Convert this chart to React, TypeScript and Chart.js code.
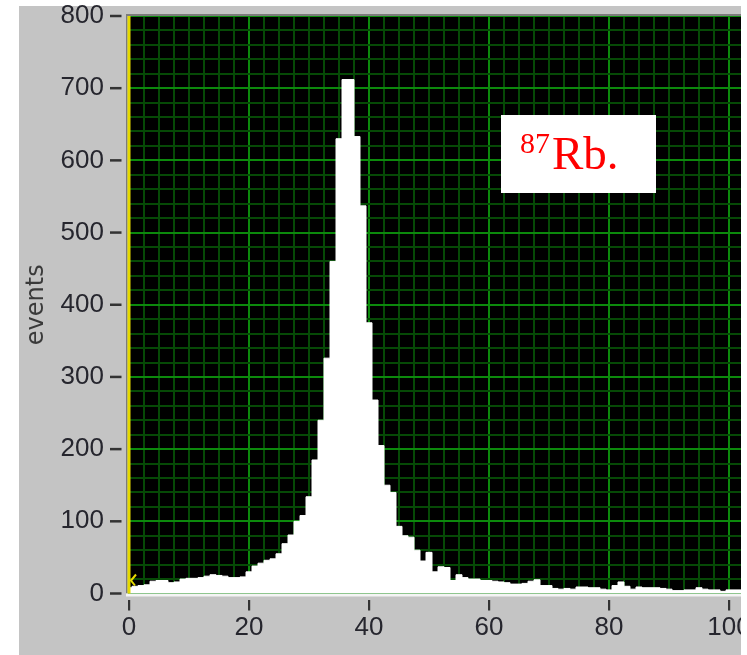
import React, { useEffect, useRef } from 'react';
import { Chart, registerables } from 'chart.js';

Chart.register(...registerables);

// Histogram bin centres (x) and event counts (y)
const binCenters = [
  0, 1, 2, 3, 4, 5, 6, 7, 8, 9, 10, 11, 12, 13, 14, 15, 16, 17, 18, 19,
  20, 21, 22, 23, 24, 25, 26, 27, 28, 29, 30, 31, 32, 33, 34, 35, 36, 37, 38, 39,
  40, 41, 42, 43, 44, 45, 46, 47, 48, 49, 50, 51, 52, 53, 54, 55, 56, 57, 58, 59,
  60, 61, 62, 63, 64, 65, 66, 67, 68, 69, 70, 71, 72, 73, 74, 75, 76, 77, 78, 79,
  80, 81, 82, 83, 84, 85, 86, 87, 88, 89, 90, 91, 92, 93, 94, 95, 96, 97, 98, 99,
  100, 101, 102,
];

const eventCounts = [
  8, 10, 11, 12, 17, 18, 18, 15, 16, 20, 21, 21, 22, 24, 26, 25, 24, 22, 22, 23,
  30, 38, 42, 46, 48, 55, 69, 81, 100, 108, 134, 185, 240, 326, 460, 630, 712, 712, 633, 537,
  375, 268, 205, 150, 140, 93, 80, 78, 60, 45, 57, 30, 37, 36, 18, 26, 22, 20, 20, 18,
  18, 17, 16, 15, 13, 13, 14, 17, 19, 11, 11, 7, 6, 7, 6, 9, 9, 8, 8, 6,
  5, 11, 16, 10, 6, 9, 8, 8, 8, 7, 6, 4, 4, 5, 5, 8, 6, 5, 5, 3,
  5, 5, 5,
];

const xTickLabels = [0, 20, 40, 60, 80, 100];
const yTickLabels = [0, 100, 200, 300, 400, 500, 600, 700, 800];

const PANEL_GRAY = '#c4c4c4';
const MAJOR_GREEN = 'rgb(12,138,12)';
const MINOR_GREEN = 'rgb(6,74,6)';
const TEXT_COLOR = '#26262e';

const isMajorX = (v: number) => xTickLabels.indexOf(Math.round(v * 1000) / 1000) >= 0;
const isMajorY = (v: number) => yTickLabels.indexOf(Math.round(v * 1000) / 1000) >= 0;

const decorPlugin = {
  id: 'decor',
  beforeDraw(chart: any) {
    const { ctx, chartArea: a } = chart;
    ctx.save();
    ctx.fillStyle = PANEL_GRAY;
    ctx.fillRect(19, 6, 741 - 19, 655 - 6);
    ctx.fillStyle = '#000000';
    ctx.fillRect(a.left, a.top, a.right - a.left, a.bottom - a.top);
    ctx.restore();
  },
  afterDatasetsDraw(chart: any) {
    const { ctx, chartArea: a, scales } = chart;
    ctx.save();
    // frame
    ctx.fillStyle = '#7c7c7c';
    ctx.fillRect(a.left - 3, a.top - 2, a.right - a.left + 3, 2);
    ctx.fillRect(a.left - 3, a.top - 2, 1.5, a.bottom - a.top + 2);
    ctx.fillStyle = '#f4f4f4';
    ctx.fillRect(a.left - 3, a.bottom, a.right - a.left + 3, 3);
    // yellow cursor line at x = 0
    const x0 = scales.x.getPixelForValue(0);
    ctx.fillStyle = '#e6da00';
    ctx.fillRect(x0 - 1.5, a.top, 3, a.bottom - a.top);
    // small cursor marker
    ctx.strokeStyle = '#e6da00';
    ctx.lineWidth = 2;
    ctx.beginPath();
    ctx.moveTo(x0 + 7, a.bottom - 19);
    ctx.lineTo(x0 + 2, a.bottom - 13);
    ctx.lineTo(x0 + 6, a.bottom - 8);
    ctx.stroke();
    ctx.restore();
  },
  afterDraw(chart: any) {
    const { ctx, scales } = chart;
    ctx.save();
    ctx.fillStyle = '#333333';
    for (const v of yTickLabels) {
      const py = scales.y.getPixelForValue(v);
      ctx.fillRect(110, py - 1.25, 11.5, 2.5);
    }
    for (const v of xTickLabels) {
      const px = scales.x.getPixelForValue(v);
      ctx.fillRect(px - 1, 600, 2.2, 10.5);
    }
    // annotation box
    ctx.fillStyle = '#ffffff';
    ctx.fillRect(501, 115, 155, 78);
    ctx.fillStyle = '#ff0000';
    ctx.textBaseline = 'alphabetic';
    ctx.textAlign = 'left';
    ctx.font = '30px "Liberation Serif", "DejaVu Serif", serif';
    ctx.fillText('87', 520, 153);
    ctx.font = '47px "Liberation Serif", "DejaVu Serif", serif';
    ctx.fillText('Rb.', 552, 168.5);
    ctx.restore();
  },
};

export default function App() {
  const canvasRef = useRef<HTMLCanvasElement | null>(null);

  useEffect(() => {
    const canvas = canvasRef.current;
    if (!canvas) return;
    const points = binCenters.map((x, i) => ({ x, y: eventCounts[i] }));
    const chart = new Chart(canvas, {
      type: 'line',
      data: {
        datasets: [
          {
            label: 'events',
            data: points,
            stepped: 'middle',
            fill: 'origin',
            backgroundColor: '#ffffff',
            borderColor: '#ffffff',
            borderWidth: 1,
            pointRadius: 0,
          },
        ],
      },
      plugins: [decorPlugin],
      options: {
        responsive: false,
        animation: false,
        devicePixelRatio: 1,
        layout: { padding: { left: 19, right: 39, top: 16, bottom: 0 } },
        plugins: { legend: { display: false }, tooltip: { enabled: false } },
        scales: {
          x: {
            type: 'linear',
            min: 0,
            max: 102,
            border: { display: false },
            grid: {
              color: (c: any) => (c.tick && isMajorX(c.tick.value) ? MAJOR_GREEN : MINOR_GREEN),
              lineWidth: 2,
              drawTicks: true,
              tickLength: 19,
              tickColor: 'rgba(0,0,0,0)',
            },
            ticks: {
              stepSize: 2.5,
              includeBounds: false,
              autoSkip: false,
              maxRotation: 0,
              minRotation: 0,
              padding: 0,
              color: TEXT_COLOR,
              font: { family: '"Liberation Sans", Arial, sans-serif', size: 26 },
              callback: (v: any) => (isMajorX(Number(v)) ? String(v) : ''),
            },
            afterFit: (s: any) => {
              s.height = 61.5;
            },
          },
          y: {
            type: 'linear',
            min: 0,
            max: 800,
            border: { display: false },
            grid: {
              color: (c: any) => (c.tick && isMajorY(c.tick.value) ? MAJOR_GREEN : MINOR_GREEN),
              lineWidth: 2,
              drawTicks: true,
              tickLength: 25,
              tickColor: 'rgba(0,0,0,0)',
            },
            ticks: {
              stepSize: 20,
              autoSkip: false,
              padding: 0,
              color: TEXT_COLOR,
              font: { family: '"Liberation Sans", Arial, sans-serif', size: 26 },
              callback: (v: any) => (isMajorY(Number(v)) ? String(v) : ''),
            },
            title: {
              display: true,
              text: 'events',
              color: '#3a3a3a',
              font: { family: '"DejaVu Sans", sans-serif', size: 24 },
              padding: { top: 3.6, bottom: 0 },
            },
            afterFit: (s: any) => {
              s.width = 110;
            },
          },
        },
      },
    } as any);
    return () => chart.destroy();
  }, []);

  return (
    <div
      style={{
        position: 'absolute',
        left: 0,
        top: 0,
        width: 741,
        height: 655,
        overflow: 'hidden',
        background: '#ffffff',
      }}
    >
      <canvas
        ref={canvasRef}
        width={780}
        height={655}
        style={{ display: 'block', width: 780, height: 655 }}
      />
    </div>
  );
}
